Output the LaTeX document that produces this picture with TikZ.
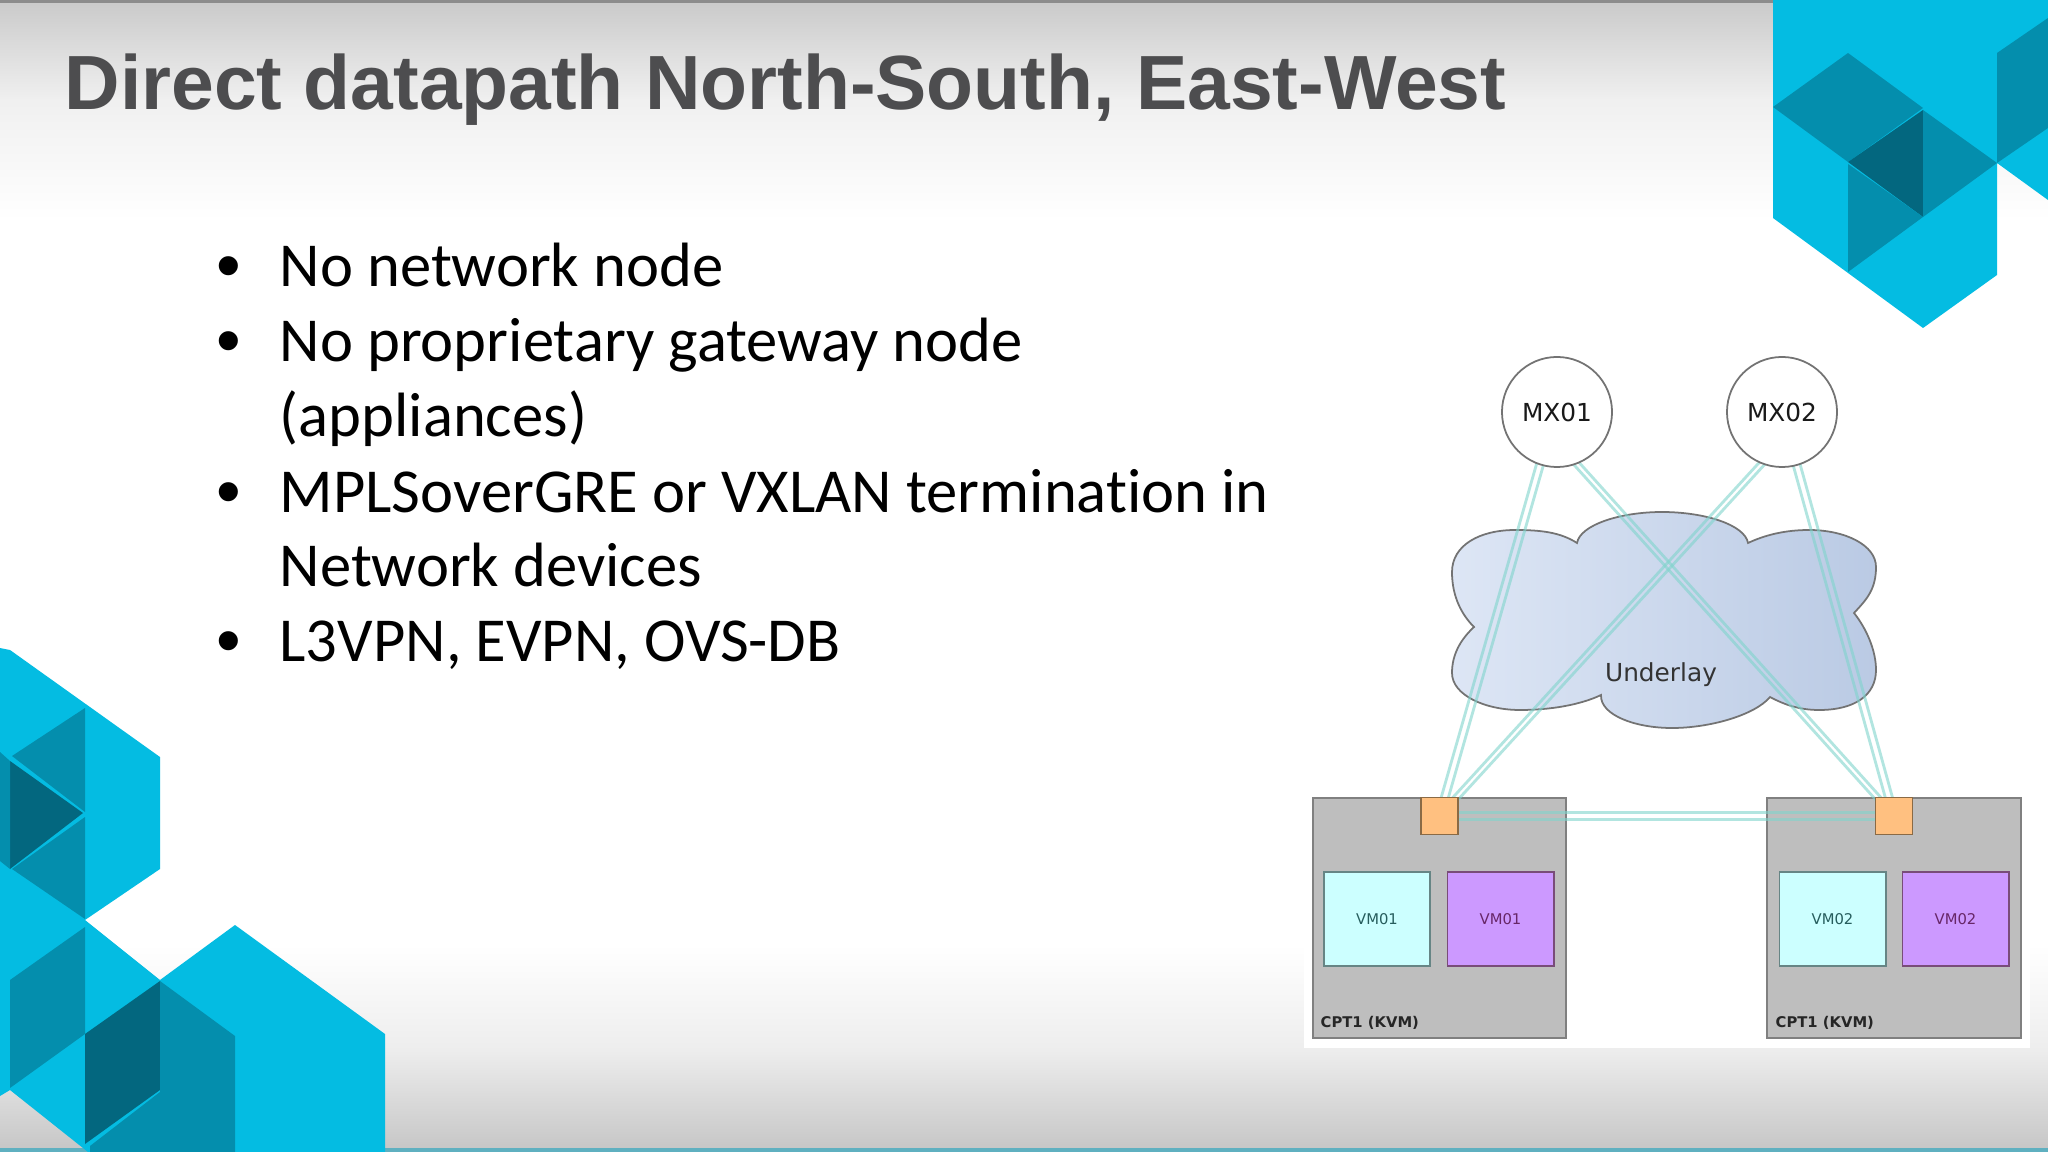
\documentclass[tikz,border=0pt]{standalone}
\usepackage{fontspec}
\setmainfont[Ligatures=NoCommon]{Carlito}
\newfontfamily\titlefont{Liberation Sans}
\newfontfamily\diagfont{DejaVu Sans}
\usetikzlibrary{positioning}
\definecolor{hexlight}{HTML}{04BCE2}
\definecolor{hexmid}{HTML}{048EAD}
\definecolor{hexdark}{HTML}{03677F}
\definecolor{titlegrey}{HTML}{4D4D4F}
\definecolor{linkteal}{HTML}{7FD4CC}
\definecolor{hostgrey}{HTML}{BEBEBE}
\definecolor{portorange}{HTML}{FFC080}
\definecolor{portedge}{HTML}{8A6A45}
\definecolor{vmcyan}{HTML}{CCFFFF}
\definecolor{vmpurple}{HTML}{CC99FF}
\definecolor{cloudleft}{HTML}{DDE6F5}
\definecolor{cloudright}{HTML}{BACAE4}
\definecolor{barteal}{HTML}{5FB0C0}
\tikzset{
	titletext/.style={anchor=base west,inner sep=0,text=titlegrey,font=\titlefont\bfseries\fontsize{21.85}{26}\selectfont},
	bodytext/.style={anchor=base west,inner sep=0,text=black,font=\fontsize{17.8}{21}\selectfont},
	bodybullet/.style={anchor=base,inner sep=0,text=black,font=\titlefont\fontsize{20}{24}\selectfont},
	mxnode/.style={circle,draw=black!55,fill=white,line width=0.5,minimum size=1.1cm,inner sep=0,text=black!90,font=\diagfont\fontsize{7.05}{8}\selectfont},
	hostbox/.style={draw=black!50,fill=hostgrey,line width=0.55,minimum width=2.53cm,minimum height=2.4cm,inner sep=0},
	portbox/.style={draw=portedge,fill=portorange,line width=0.5,minimum width=0.37cm,minimum height=0.37cm,inner sep=0},
	vmcyanbox/.style={draw=teal!40!black!60,fill=vmcyan,line width=0.55,minimum width=1.06cm,minimum height=0.94cm,inner sep=0,text=teal!50!black!85,font=\diagfont\fontsize{4.2}{5}\selectfont},
	vmpurplebox/.style={draw=violet!50!black!70,fill=vmpurple,line width=0.55,minimum width=1.06cm,minimum height=0.94cm,inner sep=0,text=violet!60!black!85,font=\diagfont\fontsize{4.2}{5}\selectfont},
	hostlabel/.style={anchor=west,inner sep=0,text=black!85,font=\diagfont\bfseries\fontsize{4.2}{5}\selectfont},
	linkline/.style={draw=linkteal,draw opacity=0.6,line width=0.8},
}
\begin{document}
\begin{tikzpicture}[x=0.01cm,y=-0.01cm]
	\useasboundingbox (0,0) rectangle (2048,1152);
	\fill[white] (0,0) rectangle (2048,1152);
	\fill[top color=black!21,bottom color=black!6] (0,0) rectangle (2048,100);
	\fill[top color=black!6,bottom color=white] (0,100) rectangle (2048,220);
	\fill[black!45] (0,0) rectangle (2048,3);
	\fill[top color=white,bottom color=black!7] (0,945) rectangle (2048,1050);
	\fill[top color=black!7,bottom color=black!22] (0,1050) rectangle (2048,1148);
	\fill[barteal] (0,1148) rectangle (2048,1152);
	\fill[white] (1304,340) rectangle (2030,1048);
	% upper right hexagons
	\fill[hexlight] (1773,0) -- (1773,218) -- (1923,328) -- (1997,275) -- (1997,163) -- (2048,200) -- (2048,0) -- cycle;
	\fill[hexmid] (1773,107) -- (1848,53) -- (1923,108) -- (1848,162) -- cycle;
	\fill[hexdark] (1848,162) -- (1923,110) -- (1923,217) -- cycle;
	\fill[hexmid] (1923,110) -- (1997,163) -- (1923,217) -- cycle;
	\fill[hexmid] (1848,164) -- (1923,217) -- (1848,272) -- cycle;
	\fill[hexmid] (1997,53) -- (2048,18) -- (2048,128) -- (1997,163) -- cycle;
	% lower left hexagons
	\fill[hexlight] (0,648) -- (10,650) -- (160,757) -- (160,869) -- (85,920) -- (160,980) -- (235,925) -- (385,1034) -- (385,1152) -- (88,1152) -- (10,1090) -- (0,1096) -- cycle;
	\fill[hexmid] (12,756) -- (85,708) -- (85,812) -- cycle;
	\fill[hexdark] (10,761) -- (83,813) -- (10,869) -- cycle;
	\fill[hexmid] (12,869) -- (85,817) -- (85,919) -- cycle;
	\fill[hexmid] (0,752) -- (10,761) -- (10,869) -- (0,861) -- cycle;
	\fill[hexmid] (10,980) -- (85,927) -- (85,1034) -- (10,1088) -- cycle;
	\fill[hexdark] (85,1034) -- (160,981) -- (160,1090) -- (85,1144) -- cycle;
	\fill[hexmid] (160,981) -- (235,1036) -- (235,1152) -- (90,1152) -- (90,1146) -- (160,1092) -- cycle;
	% title and list
	\node[titletext] (title) at (64,110) {Direct datapath North-South, East-West};
	\node[bodytext] (lineA) at (279,287) {No network node};
	\node[bodytext] (lineB) at (279,362) {No proprietary gateway node};
	\node[bodytext] (lineC) at (279,437) {(appliances)};
	\node[bodytext] (lineD) at (279,512) {MPLSoverGRE or VXLAN termination in};
	\node[bodytext] (lineE) at (279,587) {Network devices};
	\node[bodytext] (lineF) at (279,662) {L3VPN, EVPN, OVS-DB};
	\node[bodybullet] (dotA) at (229,290) {•};
	\node[bodybullet] (dotB) at (229,365) {•};
	\node[bodybullet] (dotD) at (229,515) {•};
	\node[bodybullet] (dotF) at (229,665) {•};
	% hosts and cloud
	\node[hostbox] (hostA) at (1439.5,918) {};
	\node[hostbox] (hostB) at (1894,918) {};
	\draw[draw=black!55,line width=0.5,left color=cloudleft,right color=cloudright] (1577,543)
		.. controls (1560,532) and (1540,530) .. (1515,530)
		.. controls (1480,530) and (1452,545) .. (1452,572)
		.. controls (1452,597) and (1462,615) .. (1474,627)
		.. controls (1460,640) and (1452,655) .. (1452,673)
		.. controls (1452,695) and (1485,710) .. (1520,710)
		.. controls (1550,710) and (1580,705) .. (1601,695)
		.. controls (1600,715) and (1635,728) .. (1672,728)
		.. controls (1710,728) and (1755,715) .. (1770,697)
		.. controls (1785,705) and (1800,710) .. (1819,710)
		.. controls (1855,710) and (1876,695) .. (1876,670)
		.. controls (1876,650) and (1866,628) .. (1854,613)
		.. controls (1866,600) and (1876,590) .. (1876,567)
		.. controls (1876,545) and (1845,530) .. (1809,530)
		.. controls (1785,530) and (1765,535) .. (1748,543)
		.. controls (1745,525) and (1705,512) .. (1662,512)
		.. controls (1620,512) and (1580,525) .. cycle;
	\node[text=black!80,font=\diagfont\fontsize{7.05}{8}\selectfont,inner sep=0] (underlay) at (1661,675) {Underlay};
	% routers and ports
	\coordinate (mxA) at (1557,412);
	\coordinate (mxB) at (1782,412);
	\coordinate (portA) at (1439.5,816);
	\coordinate (portB) at (1894,816);
	\foreach \s in {-3.6,3.6} {
		\draw[linkline] ([xshift=\s*0.01cm]1555,412) -- ([xshift=\s*0.01cm]portA);
		\draw[linkline] ([xshift=\s*0.01cm]1530,412) -- ([xshift=\s*0.01cm]portB);
		\draw[linkline] ([xshift=\s*0.01cm]1809,412) -- ([xshift=\s*0.01cm]portA);
		\draw[linkline] ([xshift=\s*0.01cm]1782,412) -- ([xshift=\s*0.01cm]portB);
		\draw[linkline] ([yshift=\s*0.01cm]portA) -- ([yshift=\s*0.01cm]portB);
	}
	\node[mxnode] (MXA) at (mxA) {MX01};
	\node[mxnode] (MXB) at (mxB) {MX02};
	\node[portbox] (boxA) at (portA) {};
	\node[portbox] (boxB) at (portB) {};
	% virtual machines
	\node[vmcyanbox] (vmA) at (1377,919) {VM01};
	\node[vmpurplebox] (vmB) at (1500.5,919) {VM01};
	\node[vmcyanbox] (vmC) at (1832.5,919) {VM02};
	\node[vmpurplebox] (vmD) at (1955.5,919) {VM02};
	\node[hostlabel] (labelA) at (1320,1023) {CPT1 (KVM)};
	\node[hostlabel] (labelB) at (1775,1023) {CPT1 (KVM)};
\end{tikzpicture}
\end{document}
